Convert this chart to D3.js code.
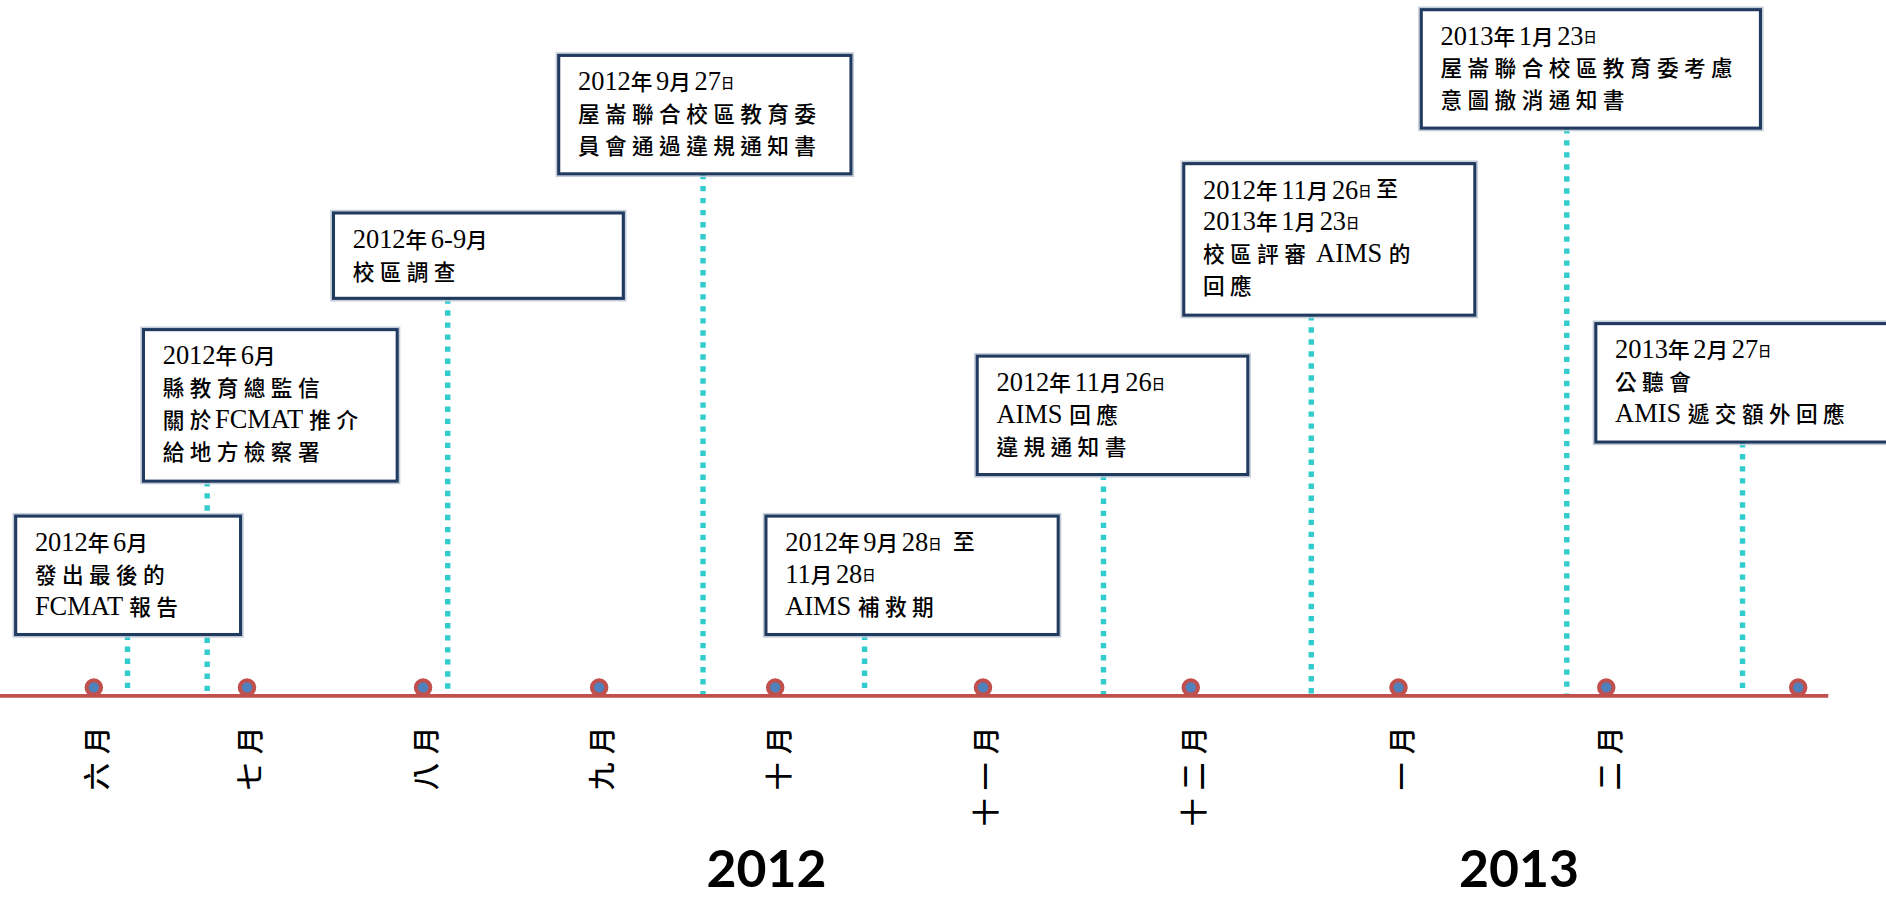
<!DOCTYPE html>
<html>
<head>
<meta charset="utf-8">
<script src="https://cdn.jsdelivr.net/npm/d3@7"></script>
<style>
  body { margin: 0; background: #fff; }
</style>
</head>
<body>
<svg id="chart"></svg>
<script>
// ---- data ----
const months = ["六月", "七月", "八月", "九月", "十月", "十一月", "十二月", "一月", "二月", ""];
// relative width of each month slot as drawn on the source timeline
const monthSpan = [0.87, 1, 1, 1, 1.18, 1.18, 1.18, 1.18, 1.09];
const years = ["2012", "2013"];
const yearAt = [3.95, 7.58];          // position in month units (0 = 六月)
const eventAt = [0.22, 0.74, 2.14, 3.59, 4.43, 5.58, 6.58, 7.81, 8.71];
const eventText = [
    ["2012年6月", "發出最後的", "FCMAT 報告"],
    ["2012年6月", "縣教育總監信", "關於FCMAT 推介", "給地方檢察署"],
    ["2012年6-9月", "校區調查"],
    ["2012年9月27日", "屋崙聯合校區教育委", "員會通過違規通知書"],
    ["2012年9月28日 至", "11月28日", "AIMS 補救期"],
    ["2012年11月26日", "AIMS 回應", "違規通知書"],
    ["2012年11月26日至", "2013年1月23日", "校區評審 AIMS 的", "回應"],
    ["2013年1月23日", "屋崙聯合校區教育委考慮", "意圖撤消通知書"],
    ["2013年2月27日", "公聽會", "AMIS 遞交額外回應"]
];

// ---- layout of the callout boxes (offset from its line, top, width) ----
const boxLayout = [
    { dx: 93, top: 429, w: 187 },
    { dx: 53, top: 274, w: 211 },
    { dx: 95, top: 177, w: 241 },
    { dx: 120, top: 46, w: 243 },
    { dx: 82, top: 429, w: 243 },
    { dx: 105, top: 296, w: 225 },
    { dx: 106, top: 136, w: 242 },
    { dx: 121, top: 8, w: 282 },
    { dx: 122, top: 269, w: 290 }
];

const W = 1568, H = 749;
const axisY = 578.5;

const svg = d3.select("#chart")
    .attr("width", 1886)
    .attr("height", 901)
    .attr("viewBox", `0 0 ${W} ${H}`);

// month index -> timeline units (uneven slots) -> pixels
const cum = [0];
monthSpan.forEach(s => cum.push(cum[cum.length - 1] + s));
const monthScale = d3.scaleLinear().domain(d3.range(months.length)).range(cum);
const x = d3.scaleLinear().domain([0, cum[cum.length - 1]]).range([78, 1495]);
const pos = v => x(monthScale(v));

const lineH = 26.5;
const boxH = n => 16 + n * 27.5;

// dotted connectors
svg.append("g").selectAll("line")
    .data(eventAt)
    .join("line")
    .attr("x1", d => pos(d))
    .attr("x2", d => pos(d))
    .attr("y1", (d, i) => boxLayout[i].top + boxH(eventText[i].length))
    .attr("y2", axisY)
    .attr("stroke", "#33cccc")
    .attr("stroke-width", 4.5)
    .attr("stroke-dasharray", "4.5 5.5");

// axis line
svg.append("line")
    .attr("x1", 0).attr("x2", 1520)
    .attr("y1", axisY).attr("y2", axisY)
    .attr("stroke", "#c0504d")
    .attr("stroke-width", 3.2);

// month dots
svg.append("g").selectAll("circle")
    .data(months)
    .join("circle")
    .attr("cx", (d, i) => pos(i))
    .attr("cy", 571.5)
    .attr("r", 6)
    .attr("fill", "#4f81bd")
    .attr("stroke", "#c0504d")
    .attr("stroke-width", 3.4);

// month labels, rotated
svg.append("g").selectAll("text")
    .data(months.filter(m => m))
    .join("text")
    .attr("transform", (d, i) => `translate(${pos(i) + 3},597) rotate(-90)`)
    .attr("text-anchor", "end")
    .attr("dy", "0.35em")
    .attr("font-family", "'Noto Sans CJK TC'")
    .attr("font-weight", 500)
    .attr("font-size", 23)
    .attr("letter-spacing", 7)
    .attr("fill", "#000")
    .text(d => d);

// year labels
svg.append("g").selectAll("text")
    .data(years)
    .join("text")
    .attr("x", (d, i) => pos(yearAt[i]))
    .attr("y", 737)
    .attr("text-anchor", "middle")
    .attr("font-family", "Lato, 'Open Sans', sans-serif")
    .attr("font-weight", "bold")
    .attr("font-size", 43)
    .attr("fill", "#000")
    .text(d => d);

// split a line into latin / cjk / small-date runs
function runs(line) {
    const out = [];
    for (let i = 0; i < line.length; i++) {
        const ch = line[i];
        const small = ch === "日" && /\d/.test(line[i - 1] || "");
        let kind = small ? "small" : (ch.charCodeAt(0) >= 0x2e80 ? "cjk" : "lat");
        // smaller gap after the last cjk glyph of a run
        const next = line[i + 1];
        if (kind === "cjk" && !(next && next.charCodeAt(0) >= 0x2e80)) kind = "cjkEnd";
        const last = out[out.length - 1];
        if (last && last.kind === kind && kind !== "small" && kind !== "cjkEnd") last.text += ch;
        else out.push({ kind, text: ch });
    }
    return out;
}

// callout boxes
const boxes = svg.append("g").selectAll("g")
    .data(eventText)
    .join("g")
    .attr("transform", (d, i) => `translate(${pos(eventAt[i]) - boxLayout[i].dx},${boxLayout[i].top})`);

boxes.append("rect")
    .attr("x", -2).attr("y", -2)
    .attr("width", (d, i) => boxLayout[i].w + 4)
    .attr("height", d => boxH(d.length) + 4)
    .attr("fill", "none")
    .attr("stroke", "#c3ccd9")
    .attr("stroke-width", 1.2);

boxes.append("rect")
    .attr("width", (d, i) => boxLayout[i].w)
    .attr("height", d => boxH(d.length))
    .attr("fill", "#fff")
    .attr("stroke", "#213a60")
    .attr("stroke-width", 2.6);

boxes.each(function(lines) {
    const g = d3.select(this);
    lines.forEach((line, li) => {
        const t = g.append("text")
            .attr("x", 16)
            .attr("y", 29 + li * lineH)
            .attr("fill", "#000");
        runs(line).forEach(r => {
            const span = t.append("tspan").text(r.text);
            if (r.kind === "lat") {
                span.attr("font-family", "'Liberation Serif', serif").attr("font-size", 22);
            } else if (r.kind === "cjk" || r.kind === "cjkEnd") {
                span.attr("font-family", "'Noto Sans CJK TC'").attr("font-size", 18)
                    .attr("font-weight", 500)
                    .attr("letter-spacing", r.kind === "cjk" ? 4.5 : 3);
            } else {
                span.attr("font-family", "'Noto Sans CJK TC'").attr("font-size", 11)
                    .attr("font-weight", 500)
                    .attr("letter-spacing", 4).attr("dy", -2);
                t.append("tspan").attr("dy", 2).text("");
            }
        });
    });
});
</script>
</body>
</html>
